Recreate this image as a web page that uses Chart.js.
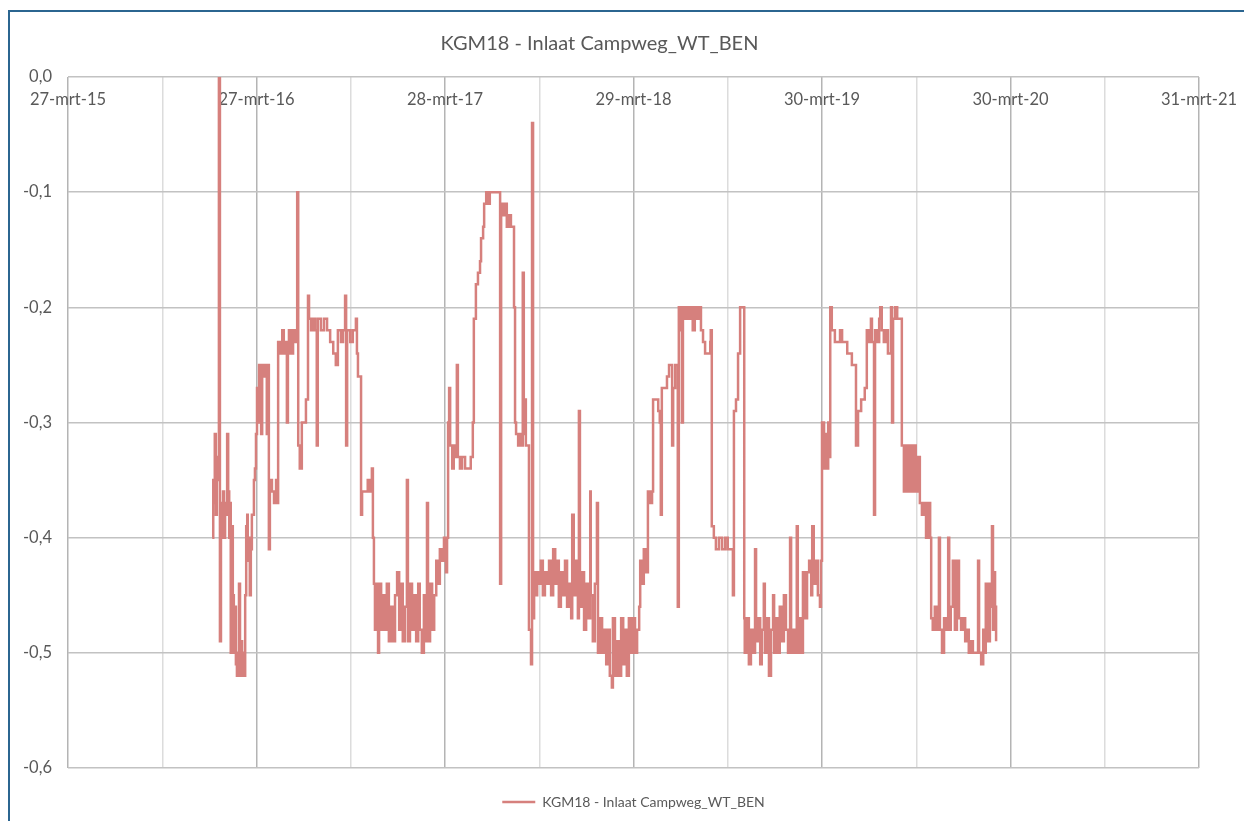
<!DOCTYPE html>
<html>
<head>
<meta charset="utf-8">
<title>KGM18 - Inlaat Campweg_WT_BEN</title>
<script src="https://cdn.jsdelivr.net/npm/chart.js@4.4.0/dist/chart.umd.min.js"></script>
<style>
  html, body { margin: 0; padding: 0; background: #fff; overflow: hidden; }
  #frame {
    position: absolute; left: 8px; top: 10px; width: 1236px; height: 811px;
    box-sizing: border-box;
    border-top: 2px solid #2b6590; border-left: 2px solid #2b6590;
  }
  #wrap { position: absolute; left: 0; top: 0; width: 1244px; height: 821px; }
</style>
</head>
<body>
<div id="frame"></div>
<div id="wrap"><canvas id="chart"></canvas></div>
<script>
const chartTitle = 'KGM18 - Inlaat Campweg_WT_BEN';
const seriesName = 'KGM18 - Inlaat Campweg_WT_BEN';

// x axis in Excel date serials: 27-mrt-15 .. 31-mrt-21
const axisStart = 42090;
const axisEnd = 44286;
const minorStep = 183;
const majorStep = 366;
const monthNames = ['jan', 'feb', 'mrt', 'apr', 'mei', 'jun', 'jul', 'aug', 'sep', 'okt', 'nov', 'dec'];

// measurement dates (Excel serial numbers)
const dates = [
  42370, 42372, 42373, 42375, 42377, 42379, 42381, 42383, 42385, 42387,
  42389, 42391, 42393, 42395, 42397, 42399, 42401, 42403, 42405, 42406,
  42408, 42410, 42412, 42414, 42416, 42418, 42420, 42422, 42424, 42426,
  42428, 42430, 42432, 42434, 42436, 42438, 42439, 42441, 42443, 42445,
  42447, 42451, 42453, 42455, 42457, 42459, 42461, 42465, 42467, 42471,
  42473, 42476, 42478, 42480, 42482, 42486, 42490, 42494, 42496, 42498,
  42502, 42506, 42509, 42513, 42515, 42517, 42519, 42523, 42527, 42531,
  42535, 42537, 42540, 42544, 42548, 42552, 42556, 42558, 42562, 42566,
  42570, 42573, 42575, 42581, 42587, 42593, 42599, 42605, 42610, 42614,
  42620, 42624, 42628, 42630, 42632, 42638, 42643, 42649, 42651, 42653,
  42657, 42659, 42661, 42667, 42672, 42676, 42680, 42682, 42684, 42686,
  42688, 42690, 42692, 42694, 42698, 42702, 42705, 42709, 42713, 42717,
  42721, 42725, 42729, 42733, 42737, 42740, 42744, 42748, 42750, 42754,
  42758, 42762, 42766, 42770, 42773, 42777, 42781, 42785, 42787, 42789,
  42793, 42797, 42801, 42805, 42808, 42812, 42816, 42820, 42824, 42826,
  42828, 42830, 42832, 42836, 42839, 42843, 42845, 42847, 42851, 42855,
  42861, 42867, 42872, 42876, 42878, 42882, 42886, 42890, 42892, 42896,
  42898, 42902, 42905, 42909, 42915, 42921, 42927, 42929, 42931, 42935,
  42938, 42942, 42946, 42950, 42954, 42956, 42958, 42960, 42964, 42968,
  42970, 42973, 42975, 42977, 42979, 42981, 42985, 42989, 42991, 42993,
  42995, 42997, 43001, 43004, 43008, 43012, 43016, 43020, 43024, 43028,
  43032, 43036, 43039, 43043, 43047, 43051, 43055, 43059, 43063, 43067,
  43069, 43072, 43076, 43080, 43082, 43084, 43088, 43092, 43096, 43100,
  43104, 43105, 43109, 43113, 43117, 43119, 43123, 43127, 43131, 43135,
  43138, 43142, 43146, 43148, 43152, 43156, 43160, 43164, 43168, 43171,
  43175, 43179, 43183, 43187, 43191, 43195, 43199,
  43201, 43204, 43208, 43212, 43216, 43220, 43224, 43226, 43232, 43236,
  43239, 43241, 43243, 43249, 43253, 43257, 43261, 43263, 43265, 43269,
  43272, 43274, 43276, 43280, 43282, 43284, 43288, 43292, 43296, 43300,
  43303, 43307, 43311, 43315, 43319, 43323, 43327, 43333, 43337, 43338,
  43340, 43344, 43348, 43354, 43360, 43366, 43371, 43377, 43381, 43383,
  43387, 43391, 43395, 43399, 43401,
  43403, 43404, 43408, 43412, 43416, 43420, 43424, 43426, 43430, 43434,
  43437, 43441, 43443, 43447, 43451, 43455, 43459, 43461, 43465, 43469,
  43472, 43476, 43480, 43484, 43488, 43492, 43494, 43498, 43502, 43505,
  43507, 43511, 43515, 43517, 43521, 43525, 43529, 43533, 43535, 43538,
  43542, 43546, 43550,
  43552, 43554, 43558, 43560, 43564, 43566, 43568, 43570, 43573, 43579,
  43585, 43589, 43593, 43599, 43603, 43608, 43612, 43618, 43620, 43624,
  43630, 43634, 43637, 43641, 43645, 43649, 43651, 43655, 43657, 43661,
  43665, 43667, 43670, 43674, 43678, 43682, 43686, 43688, 43690, 43692,
  43696, 43700, 43705, 43709, 43713, 43717, 43721, 43725, 43729, 43733,
  43736, 43740, 43744, 43748, 43752, 43756, 43760, 43764,
  43766, 43769, 43773, 43777, 43781, 43783, 43787, 43791, 43795, 43799,
  43801, 43804, 43808, 43812, 43816, 43820, 43824, 43828, 43832, 43836,
  43839, 43843, 43847, 43851, 43855, 43857, 43859, 43863, 43867, 43870,
  43872, 43876, 43880, 43882, 43884, 43886, 43888, 43890, 43892
];

// water level readings
const levels = [
  -0.40, -0.35, -0.37, -0.31, -0.38, -0.35, -0.33, 0.00, -0.49, -0.37,
  -0.40, -0.36, -0.40, -0.37, -0.38, -0.31, -0.36, -0.40, -0.37, -0.50,
  -0.39, -0.45, -0.50, -0.46, -0.51, -0.52, -0.50, -0.44, -0.52, -0.49,
  -0.52, -0.50, -0.52, -0.45, -0.39, -0.38, -0.42, -0.40, -0.45, -0.41,
  -0.38, -0.35, -0.34, -0.31, -0.27, -0.30, -0.25, -0.31, -0.25, -0.26,
  -0.25, -0.31, -0.25, -0.41, -0.35, -0.36, -0.37, -0.35, -0.37, -0.23,
  -0.24, -0.22, -0.24, -0.23, -0.30, -0.24, -0.22, -0.24, -0.22, -0.23,
  -0.10, -0.32, -0.34, -0.30, -0.30, -0.28, -0.19, -0.21, -0.22, -0.21,
  -0.22, -0.32, -0.21, -0.22, -0.21, -0.22, -0.23, -0.24, -0.25, -0.22,
  -0.23, -0.22, -0.19, -0.32, -0.22, -0.23, -0.22, -0.21, -0.24, -0.26,
  -0.26, -0.38, -0.36, -0.36, -0.35, -0.36, -0.34, -0.40, -0.44, -0.48,
  -0.44, -0.46, -0.50, -0.44, -0.48, -0.45, -0.48, -0.44, -0.49, -0.46,
  -0.49, -0.45, -0.43, -0.48, -0.44, -0.49, -0.46, -0.35, -0.49, -0.44,
  -0.48, -0.45, -0.49, -0.44, -0.48, -0.50, -0.45, -0.49, -0.37, -0.49,
  -0.44, -0.48, -0.45, -0.42, -0.44, -0.41, -0.42, -0.40, -0.43, -0.40,
  -0.30, -0.27, -0.32, -0.34, -0.32, -0.33, -0.25, -0.33, -0.34, -0.33,
  -0.34, -0.34, -0.33, -0.30, -0.21, -0.18, -0.17, -0.16, -0.14, -0.13,
  -0.11, -0.10, -0.11, -0.10, -0.10, -0.10, -0.10, -0.44, -0.11, -0.12,
  -0.11, -0.13, -0.12, -0.13, -0.13, -0.20, -0.30, -0.31, -0.32, -0.31,
  -0.32, -0.17, -0.31, -0.28, -0.32, -0.32, -0.48, -0.51, -0.04, -0.47,
  -0.43, -0.45, -0.43, -0.44, -0.42, -0.45, -0.43, -0.44, -0.42, -0.45,
  -0.41, -0.44, -0.42, -0.46, -0.43, -0.45, -0.42, -0.46, -0.44, -0.47,
  -0.38, -0.45, -0.42, -0.47, -0.29, -0.46, -0.43, -0.48, -0.44, -0.47,
  -0.36, -0.45, -0.49, -0.44, -0.37, -0.50, -0.47, -0.50, -0.48, -0.51,
  -0.48, -0.52, -0.53, -0.47, -0.52, -0.49, -0.52, -0.47, -0.51, -0.48,
  -0.52, -0.47, -0.50, -0.47, -0.50, -0.48, -0.46,
  -0.42, -0.44, -0.41, -0.43, -0.36, -0.37, -0.36, -0.28, -0.28, -0.29,
  -0.30, -0.38, -0.27, -0.27, -0.26, -0.25, -0.25, -0.32, -0.27, -0.25,
  -0.25, -0.46, -0.20, -0.22, -0.30, -0.20, -0.21, -0.20, -0.21, -0.20,
  -0.22, -0.20, -0.21, -0.20, -0.22, -0.23, -0.24, -0.24, -0.23, -0.22,
  -0.39, -0.40, -0.41, -0.40, -0.41, -0.40, -0.41, -0.41, -0.45, -0.29,
  -0.28, -0.24, -0.20, -0.20, -0.20,
  -0.47, -0.50, -0.47, -0.51, -0.48, -0.50, -0.41, -0.49, -0.47, -0.51,
  -0.48, -0.44, -0.50, -0.47, -0.52, -0.48, -0.45, -0.50, -0.47, -0.50,
  -0.46, -0.49, -0.45, -0.48, -0.50, -0.40, -0.50, -0.48, -0.50, -0.39,
  -0.50, -0.47, -0.50, -0.43, -0.47, -0.43, -0.42, -0.45, -0.39, -0.44,
  -0.42, -0.45, -0.46,
  -0.42, -0.30, -0.34, -0.31, -0.34, -0.30, -0.33, -0.20, -0.22, -0.23,
  -0.23, -0.22, -0.23, -0.23, -0.24, -0.24, -0.25, -0.25, -0.32, -0.29,
  -0.28, -0.28, -0.27, -0.22, -0.23, -0.21, -0.23, -0.38, -0.22, -0.23,
  -0.21, -0.20, -0.22, -0.23, -0.22, -0.24, -0.24, -0.20, -0.30, -0.21,
  -0.20, -0.21, -0.21, -0.32, -0.36, -0.32, -0.36, -0.32, -0.36, -0.32,
  -0.36, -0.33, -0.37, -0.38, -0.37, -0.40, -0.37, -0.40,
  -0.47, -0.48, -0.46, -0.48, -0.40, -0.48, -0.50, -0.47, -0.48, -0.40,
  -0.48, -0.46, -0.42, -0.48, -0.42, -0.47, -0.48, -0.47, -0.49, -0.48,
  -0.50, -0.49, -0.50, -0.50, -0.50, -0.42, -0.50, -0.51, -0.48, -0.50,
  -0.44, -0.49, -0.44, -0.46, -0.39, -0.48, -0.43, -0.46, -0.49
];

const textColor = '#595959';
const lineColor = '#d6807d';

function serialToLabel(serial) {
  const d = new Date(Date.UTC(1899, 11, 30) + serial * 86400000);
  return d.getUTCDate() + '-' + monthNames[d.getUTCMonth()] + '-' + String(d.getUTCFullYear()).slice(2);
}

const isMajor = v => (v - axisStart) % majorStep === 0;

Chart.defaults.font.family = 'Lato';
Chart.defaults.color = textColor;

new Chart(document.getElementById('chart'), {
  type: 'line',
  data: {
    datasets: [{
      label: seriesName,
      data: dates.map((d, i) => ({ x: d, y: levels[i] })),
      borderColor: lineColor,
      backgroundColor: lineColor,
      borderWidth: 2.5,
      pointRadius: 0,
      stepped: true,
      fill: false
    }]
  },
  options: {
    responsive: true,
    maintainAspectRatio: false,
    animation: false,
    layout: { padding: { left: 0, right: 45, top: 0, bottom: 2 } },
    plugins: {
      title: {
        display: true,
        text: chartTitle,
        color: textColor,
        font: { size: 20, weight: 'normal' },
        padding: { top: 32, bottom: 21 }
      },
      legend: {
        position: 'bottom',
        fullSize: false,
        labels: {
          usePointStyle: true,
          pointStyle: 'line',
          pointStyleWidth: 33,
          padding: 27,
          color: textColor,
          font: { size: 14 }
        }
      },
      tooltip: { enabled: false }
    },
    scales: {
      x: {
        type: 'linear',
        position: { y: 0 },
        min: axisStart,
        max: axisEnd,
        ticks: {
          stepSize: minorStep,
          autoSkip: false,
          maxRotation: 0,
          padding: 13,
          color: textColor,
          font: { size: 16.5 },
          callback: v => isMajor(v) ? serialToLabel(v) : ''
        },
        grid: {
          drawTicks: false,
          lineWidth: 1.5,
          color: ctx => (ctx.tick && isMajor(ctx.tick.value)) ? '#b4b4b4' : '#dcdcdc'
        },
        border: { display: false },
        afterFit(scale) { scale.paddingLeft = 0; scale.paddingRight = 0; }
      },
      y: {
        min: -0.6,
        max: 0,
        ticks: {
          stepSize: 0.1,
          padding: 16,
          color: textColor,
          font: { size: 16.5 },
          callback: v => v.toFixed(1).replace('.', ',')
        },
        grid: { drawTicks: false, lineWidth: 1.5, color: '#c2c2c2' },
        border: { display: false },
        afterFit(scale) { scale.width = 68; }
      }
    }
  }
});
</script>
</body>
</html>
